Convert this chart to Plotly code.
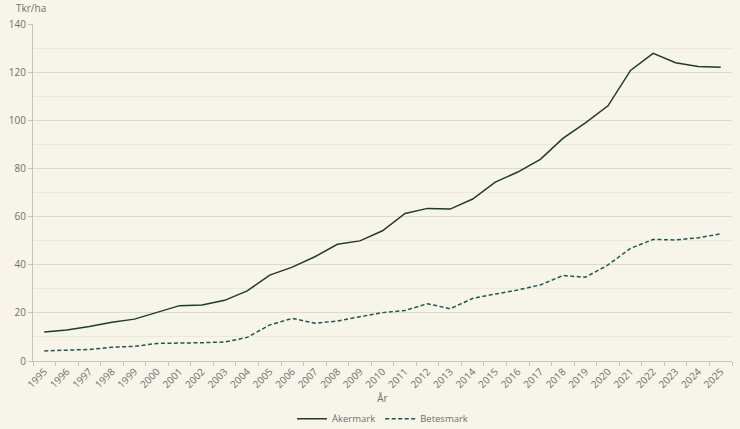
import plotly.graph_objects as go

years = [str(y) for y in range(1995, 2026)]
akermark = [12.0, 12.9, 14.3, 16.1, 17.4, 20.1, 23.0, 23.3, 25.2, 29.1, 35.7, 39.0, 43.3, 48.5, 49.9,
            54.1, 61.3, 63.4, 63.1, 67.3, 74.3, 78.5, 83.8, 92.5, 98.9, 106.0, 120.7, 127.8, 123.9, 122.3, 122.0]
betesmark = [4.2, 4.6, 4.8, 5.7, 6.1, 7.3, 7.3, 7.6, 7.9, 9.8, 15.0, 17.7, 15.7, 16.6, 18.4,
             20.1, 21.0, 23.8, 21.7, 26.0, 27.8, 29.5, 31.6, 35.5, 34.8, 39.9, 46.8, 50.5, 50.3, 51.2, 52.8]

bg = "#f7f5ea"
txt = "#6e6e6e"
font = "Open Sans"

fig = go.Figure()
fig.add_trace(go.Scatter(x=years, y=akermark, mode="lines", name="Åkermark",
                         line=dict(color="#1f3b2c", width=1.5)))
fig.add_trace(go.Scatter(x=years, y=betesmark, mode="lines", name="Betesmark",
                         line=dict(color="#1c5656", width=1.5, dash="4px,2.5px")))

fig.update_layout(
    width=740, height=429,
    paper_bgcolor=bg, plot_bgcolor=bg,
    margin=dict(l=33, r=8, t=24, b=68, autoexpand=False),
    font=dict(family=font, size=10, color=txt),
    showlegend=True,
    legend=dict(orientation="h", x=0.5, xanchor="center", y=-0.128, yanchor="top",
                font=dict(size=9.5, color=txt), bgcolor="rgba(0,0,0,0)", itemwidth=30),
    annotations=[dict(text="Tkr/ha", xref="paper", yref="paper", x=-0.027, y=1.0475,
                      xanchor="left", yanchor="middle", showarrow=False,
                      font=dict(size=10, color=txt))],
)
fig.update_xaxes(type="category", range=[-0.5, 30.5], tickangle=-45, tickson="boundaries",
                 ticks="outside", ticklen=4, tickcolor="#c8c5b8", automargin=False,
                 showline=True, linecolor="#c8c5b8", showgrid=False,
                 title=dict(text="År", standoff=0, font=dict(size=10, color=txt)),
                 tickfont=dict(size=10, color=txt))
fig.update_yaxes(range=[0, 140], dtick=20, showline=True, linecolor="#c8c5b8",
                 ticks="outside", ticklen=4, tickcolor="#c8c5b8", automargin=False,
                 gridcolor="#dedbcd", gridwidth=1, zeroline=False,
                 minor=dict(dtick=10, showgrid=True, gridcolor="#ebe8dc", ticks=""),
                 tickfont=dict(size=10, color=txt))

fig.write_html("out.html", config={"displayModeBar": False},
               post_script="document.body.style.margin='0';document.body.style.background='%s';" % bg)
